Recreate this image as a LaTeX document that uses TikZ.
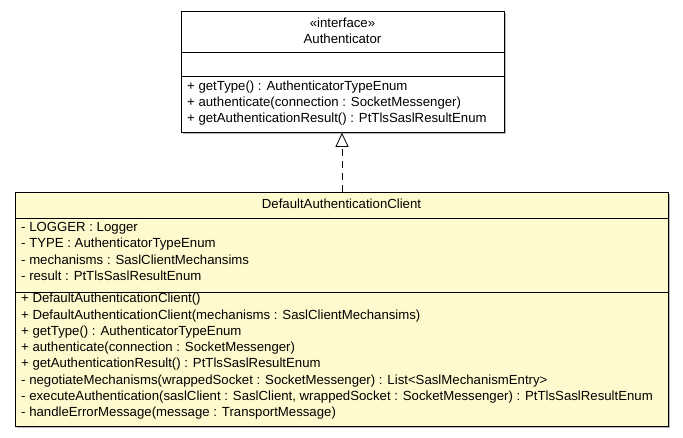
\documentclass[tikz,border=0pt]{standalone}
\usepackage{fontspec}
\setmainfont{Liberation Sans}
\usetikzlibrary{arrows.meta,shadows}
\definecolor{classfill}{RGB}{255,250,205}
\begin{document}
\begin{tikzpicture}[x=1pt,y=-1pt,
  umlbox/.style={draw=black, line width=0.8pt, inner sep=0pt, anchor=north west,
    drop shadow={shadow xshift=1.5pt, shadow yshift=-1.5pt, fill=gray!80, opacity=0.7}},
  sep/.style={draw=black, line width=0.8pt},
  member/.style={anchor=west, inner sep=0pt, text height=9.5pt, text depth=3pt,
    font=\fontsize{13.2}{15}\selectfont},
  title/.style={anchor=center, inner sep=0pt, text height=9.5pt, text depth=3pt,
    font=\fontsize{13.2}{15}\selectfont},
  realizes/.style={draw=black, line width=0.8pt, dash pattern=on 7pt off 5pt,
    -{Triangle[open, length=14pt, width=13pt, fill=white]}}]
\useasboundingbox (0,0) rectangle (683,437);

% interface Authenticator
\node[umlbox, fill=white, minimum width=323pt, minimum height=121pt] (iface) at (181,11) {};
\draw[sep] (181,52) -- (504,52);
\draw[sep] (181,76) -- (504,76);
\node[title] (stereo) at (342.5,24) {«interface»};
\node[title] (ifname) at (342.5,40) {Authenticator};
\node[member] (iop1) at (187,87) {+ getType() : AuthenticatorTypeEnum};
\node[member] (iop2) at (187,103) {+ authenticate(connection : SocketMessenger)};
\node[member] (iop3) at (187,119) {+ getAuthenticationResult() : PtTlsSaslResultEnum};

% class DefaultAuthenticationClient
\node[umlbox, fill=classfill, minimum width=653pt, minimum height=234pt] (client) at (15,192) {};
\draw[sep] (15,218) -- (668,218);
\draw[sep] (15,292) -- (668,292);
\node[title] (cname) at (341.5,205) {DefaultAuthenticationClient};
\node[member] (at1) at (21,228) {- LOGGER : Logger};
\node[member] (at2) at (21,244.5) {- TYPE : AuthenticatorTypeEnum};
\node[member] (at3) at (21,261) {- mechanisms : SaslClientMechansims};
\node[member] (at4) at (21,277.5) {- result : PtTlsSaslResultEnum};
\node[member] (op1) at (21,299.5) {+ DefaultAuthenticationClient()};
\node[member] (op2) at (21,316) {+ DefaultAuthenticationClient(mechanisms : SaslClientMechansims)};
\node[member] (op3) at (21,332) {+ getType() : AuthenticatorTypeEnum};
\node[member] (op4) at (21,348.5) {+ authenticate(connection : SocketMessenger)};
\node[member] (op5) at (21,364.5) {+ getAuthenticationResult() : PtTlsSaslResultEnum};
\node[member] (op6) at (21,381) {- negotiateMechanisms(wrappedSocket : SocketMessenger) : List<SaslMechanismEntry>};
\node[member] (op7) at (21,397) {- executeAuthentication(saslClient : SaslClient, wrappedSocket : SocketMessenger) : PtTlsSaslResultEnum};
\node[member] (op8) at (21,413) {- handleErrorMessage(message : TransportMessage)};

% realization
\draw[realizes] (client.north -| 342,0) -- (iface.south -| 342,0);
\end{tikzpicture}
\end{document}
